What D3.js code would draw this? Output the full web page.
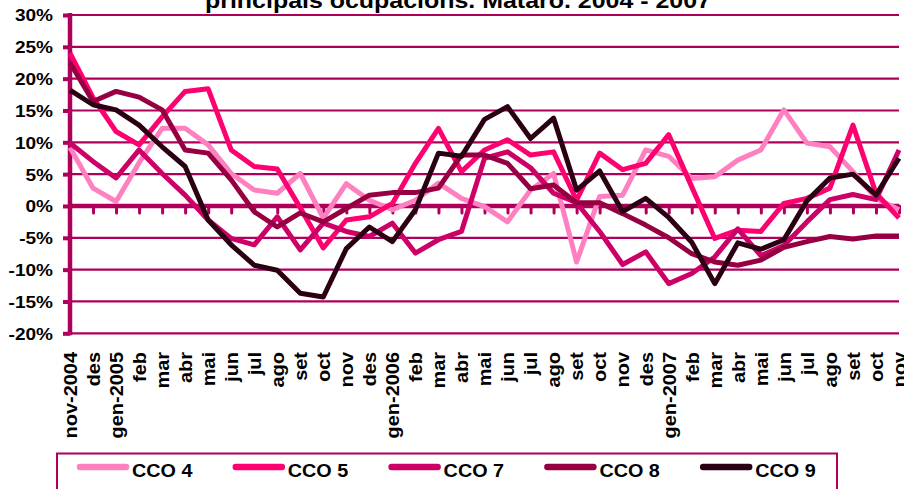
<!DOCTYPE html>
<html>
<head>
<meta charset="utf-8">
<script src="https://cdn.jsdelivr.net/npm/d3@7"></script>
<style>
  html, body { margin: 0; padding: 0; background: #fff; }
  svg { display: block; font-family: "Liberation Sans", Arial, sans-serif; font-weight: bold; }
</style>
</head>
<body>
<svg id="chart" width="904" height="489"></svg>
<script>
const categories = ["nov-2004","des","gen-2005","feb","mar","abr","mai","jun","jul","ago","set","oct","nov","des",
  "gen-2006","feb","mar","abr","mai","jun","jul","ago","set","oct","nov","des",
  "gen-2007","feb","mar","abr","mai","jun","jul","ago","set","oct","nov"];

const seriesNames = ["CCO 4","CCO 5","CCO 7","CCO 8","CCO 9"];
const seriesColors = ["#FF80C0","#FF0070","#CC0066","#960042","#2B0012"];

const cco4 = [9.2, 2.8, 0.7, 6.8, 12.2, 12.2, 9.6, 5.1, 2.5, 2.0, 5.1, -1.9, 3.5, 0.9, -0.6, 0.9, 3.6, 1.2, -0.1, -2.5, 2.5, 5.1, -8.8, 1.5, 1.7, 8.8, 7.8, 4.3, 4.6, 7.2, 8.8, 15.1, 9.9, 9.3, 5.4, 1.2, -0.6];
const cco5 = [24.0, 17.0, 11.7, 9.6, 14.0, 18.0, 18.4, 8.8, 6.2, 5.8, -0.3, -6.6, -2.2, -1.7, 0.4, 6.7, 12.2, 5.4, 8.8, 10.4, 8.0, 8.5, 0.9, 8.3, 5.7, 6.7, 11.2, 3.0, -5.1, -3.8, -4.0, 0.4, 1.2, 2.8, 12.7, 2.0, -1.9];
const cco7 = [9.9, 7.0, 4.4, 8.8, 5.1, 1.7, -2.2, -5.1, -6.1, -1.7, -6.9, -2.7, -4.0, -4.8, -2.7, -7.4, -5.3, -4.0, 7.5, 8.5, 6.0, 2.0, 0.5, -4.0, -9.2, -7.2, -12.2, -10.6, -8.0, -3.6, -7.8, -6.2, -2.5, 1.0, 1.8, 1.0, 8.8];
const cco8 = [22.5, 16.4, 18.0, 17.1, 15.1, 8.8, 8.3, 4.1, -0.9, -3.3, -1.1, -2.5, -0.4, 1.7, 2.1, 2.1, 2.8, 8.0, 8.0, 6.7, 2.7, 3.3, 0.5, 0.5, -1.2, -3.0, -5.0, -7.5, -8.8, -9.3, -8.5, -6.5, -5.6, -4.8, -5.2, -4.7, -4.7];
const cco9 = [18.2, 15.9, 15.1, 12.7, 9.3, 6.2, -2.2, -6.1, -9.3, -10.1, -13.7, -14.3, -6.7, -3.3, -5.6, -0.6, 8.3, 7.8, 13.6, 15.6, 10.6, 13.8, 2.5, 5.5, -0.9, 1.2, -1.8, -5.7, -12.2, -5.8, -6.8, -5.3, 0.8, 4.4, 5.0, 1.7, 7.5];

const yTicks = [-20, -15, -10, -5, 0, 5, 10, 15, 20, 25, 30];
const titleText = "principals ocupacions. Mataró. 2004 - 2007";

const allSeries = [cco4, cco5, cco7, cco8, cco9];

const axisColor = "#AE005A";
const plotLeft = 70, plotRight = 899, plotTop = 15, plotBottom = 333.3;
const fontFam = "'Liberation Sans', Arial, sans-serif";

const svg = d3.select("#chart");

const x = d3.scalePoint().domain(d3.range(categories.length)).range([plotLeft, plotRight]);
const y = d3.scaleLinear().domain([-20, 30]).range([plotBottom, plotTop]);

// Title (partly cut off at the top)
svg.append("text")
  .attr("x", 205).attr("y", 8)
  .attr("font-size", 22)
  .attr("textLength", 506)
  .attr("lengthAdjust", "spacingAndGlyphs")
  .attr("fill", "#000")
  .text(titleText);

// Gridlines
svg.append("g").selectAll("line")
  .data(yTicks.filter(d => d !== 0))
  .join("line")
  .attr("x1", plotLeft).attr("x2", plotRight)
  .attr("y1", d => y(d)).attr("y2", d => y(d))
  .attr("stroke", axisColor).attr("stroke-width", 2.2);

// Y axis
const yAxis = svg.append("g")
  .attr("transform", `translate(${plotLeft},0)`)
  .call(d3.axisLeft(y).tickValues(yTicks).tickSize(7).tickPadding(10).tickFormat(d => d + "%"));
yAxis.select(".domain").remove();
yAxis.selectAll(".tick line").attr("stroke", axisColor).attr("stroke-width", 4);
yAxis.selectAll(".tick text")
  .attr("fill", "#000").attr("font-size", 17)
  .attr("font-family", fontFam).attr("font-weight", "bold")
  .attr("x", 0).attr("dy", "0.35em")
  .attr("transform", "translate(-17,0) scale(1.12,1)");
yAxis.append("line")
  .attr("x1", 0).attr("x2", 0).attr("y1", plotTop - 2).attr("y2", plotBottom + 2)
  .attr("stroke", axisColor).attr("stroke-width", 4.5);

// X axis on the zero line
const xAxis = svg.append("g")
  .attr("transform", `translate(0,${y(0)})`)
  .call(d3.axisBottom(x).tickSize(7).tickFormat(i => categories[i]));
xAxis.select(".domain").remove();
xAxis.selectAll(".tick line").attr("stroke", axisColor).attr("stroke-width", 3).attr("stroke-linecap", "round");
xAxis.append("line")
  .attr("x1", plotLeft).attr("x2", plotRight).attr("y1", 0).attr("y2", 0)
  .attr("stroke", axisColor).attr("stroke-width", 4.5);
xAxis.selectAll(".tick text")
  .attr("fill", "#000").attr("font-size", 17.5)
  .attr("font-family", fontFam).attr("font-weight", "bold")
  .attr("text-anchor", "end")
  .attr("x", 0).attr("y", 0).attr("dy", "0.36em")
  .attr("transform", `translate(0,${352 - y(0)}) rotate(-90) scale(1.14,1)`);

// Lines
const line = d3.line().x((d, i) => x(i)).y(d => y(d));
svg.append("g").selectAll("path")
  .data(allSeries)
  .join("path")
  .attr("d", line)
  .attr("fill", "none")
  .attr("stroke", (d, i) => seriesColors[i])
  .attr("stroke-width", 5)
  .attr("stroke-linejoin", "round");

// Legend
const legend = svg.append("g");
legend.append("rect")
  .attr("x", 57).attr("y", 453.5).attr("width", 780).attr("height", 60)
  .attr("fill", "none").attr("stroke", axisColor).attr("stroke-width", 2);
const items = legend.selectAll("g.item")
  .data(seriesNames)
  .join("g")
  .attr("class", "item")
  .attr("transform", (d, i) => `translate(${78 + i * 155.8},0)`);
items.append("line")
  .attr("x1", 2).attr("x2", 48).attr("y1", 467).attr("y2", 467)
  .attr("stroke", (d, i) => seriesColors[i])
  .attr("stroke-width", 6.5).attr("stroke-linecap", "round");
items.append("text")
  .attr("x", 0).attr("y", 0)
  .attr("transform", "translate(54,476.5) scale(1.1,1)")
  .attr("font-size", 18)
  .attr("fill", "#000")
  .text(d => d);
</script>
</body>
</html>
